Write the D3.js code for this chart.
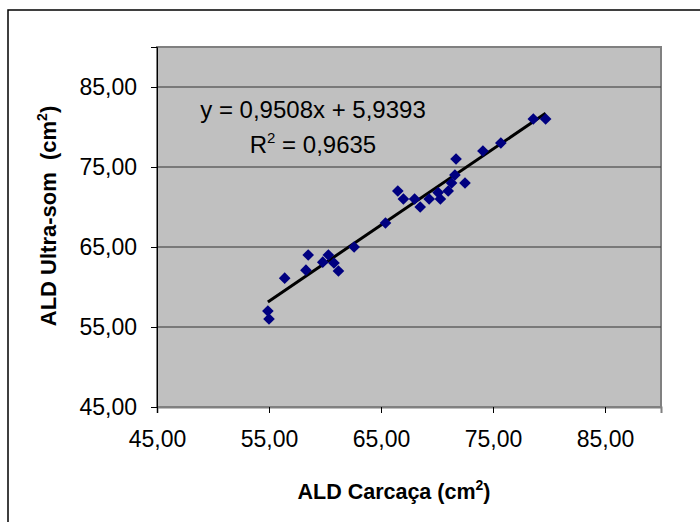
<!DOCTYPE html>
<html>
<head>
<meta charset="utf-8">
<script src="https://cdn.jsdelivr.net/npm/d3@7"></script>
<style>
  body { margin: 0; background: #fff; }
  svg { display: block; font-family: Arial, "Liberation Sans", sans-serif; }
</style>
</head>
<body>
<div id="root"></div>
<script>
// ALD carcaça (x) vs ALD ultra-som (y), cm2
var carcaca = [54.9, 55.0, 56.4, 58.3, 58.5, 59.8, 60.3, 60.8, 61.2, 62.6,
    65.4, 66.5, 67.0, 68.0, 68.5, 69.3, 70.1, 70.3, 71.0, 71.3,
    71.6, 72.5, 71.7, 74.1, 75.7, 78.6, 79.7];
var ultrasom = [57.0, 56.0, 61.1, 62.1, 64.0, 63.1, 64.0, 63.0, 62.0, 65.0,
    68.0, 72.0, 71.0, 71.0, 70.0, 71.0, 71.8, 71.0, 72.0, 73.0,
    74.0, 73.0, 76.0, 77.0, 78.0, 81.0, 81.0];
var ticks = [45, 55, 65, 75, 85];
var slope = 0.9508, intercept = 5.9393;
var eqText = "y = 0,9508x + 5,9393";
var r2Text = "0,9635";

var W = 700, H = 522;
var svg = d3.select("#root").append("svg")
    .attr("width", W)
    .attr("height", H);

// outer chart frame (runs past the right/bottom edges)
svg.append("rect")
    .attr("x", 8).attr("y", 10)
    .attr("width", 720).attr("height", 540)
    .attr("fill", "#fff")
    .attr("stroke", "#000")
    .attr("stroke-width", 1.5);

var pLeft = 157, pRight = 661, pTop = 47, pBottom = 407;

var x = d3.scaleLinear().domain([45, 90]).range([pLeft, pRight]);
var y = d3.scaleLinear().domain([45, 90]).range([pBottom, pTop]);

svg.append("rect")
    .attr("x", pLeft).attr("y", pTop)
    .attr("width", pRight - pLeft).attr("height", pBottom - pTop)
    .attr("fill", "#c0c0c0")
    .attr("stroke", "#808080")
    .attr("stroke-width", 2);

// horizontal gridlines
svg.append("g").selectAll("line")
    .data(ticks.slice(1))
    .enter().append("line")
    .attr("x1", pLeft).attr("x2", pRight)
    .attr("y1", function (d) { return y(d); })
    .attr("y2", function (d) { return y(d); })
    .attr("stroke", "#333")
    .attr("stroke-width", 1);

var fmt = function (d) { return d3.format(".2f")(d).replace(".", ","); };

var xAxis = svg.append("g")
    .attr("transform", "translate(0," + pBottom + ")")
    .call(d3.axisBottom(x).tickValues(ticks).tickSize(6).tickPadding(18).tickFormat(fmt));
var yAxis = svg.append("g")
    .attr("transform", "translate(" + pLeft + ",0)")
    .call(d3.axisLeft(y).tickValues(ticks).tickSize(6).tickPadding(14).tickFormat(fmt));

[xAxis, yAxis].forEach(function (g) {
    g.select(".domain").attr("stroke", "#000").attr("stroke-width", 1);
    g.selectAll(".tick line").attr("stroke", "#000");
    g.selectAll(".tick text")
        .attr("fill", "#000")
        .style("font-size", "23px")
        .style("font-family", "Arial, 'Liberation Sans', sans-serif");
});
xAxis.select(".domain").attr("stroke", "#808080").attr("stroke-width", 2);

// trendline
var x0 = d3.min(carcaca), x1 = d3.max(carcaca);
svg.append("line")
    .attr("x1", x(x0)).attr("y1", y(slope * x0 + intercept))
    .attr("x2", x(x1)).attr("y2", y(slope * x1 + intercept))
    .attr("stroke", "#000")
    .attr("stroke-width", 3);

// points
svg.append("g").selectAll("path")
    .data(carcaca)
    .enter().append("path")
    .attr("d", d3.symbol().type(d3.symbolSquare).size(68))
    .attr("transform", function (d, i) {
        return "translate(" + x(d) + "," + y(ultrasom[i]) + ") rotate(45)";
    })
    .attr("fill", "#000080");

// equation
svg.append("text")
    .attr("x", 313).attr("y", 118)
    .attr("text-anchor", "middle")
    .style("font-size", "24px")
    .text(eqText);
var r2 = svg.append("text")
    .attr("x", 313).attr("y", 153)
    .attr("text-anchor", "middle")
    .style("font-size", "24px");
r2.append("tspan").text("R");
r2.append("tspan").attr("dy", -10).style("font-size", "15px").text("2");
r2.append("tspan").attr("dy", 10).text(" = " + r2Text);

// axis titles
var xt = svg.append("text")
    .attr("x", 394).attr("y", 499)
    .attr("text-anchor", "middle")
    .style("font-size", "21.5px").style("font-weight", "bold");
xt.append("tspan").text("ALD Carcaça (cm");
xt.append("tspan").attr("dy", -9).style("font-size", "14px").text("2");
xt.append("tspan").attr("dy", 9).text(")");

var yt = svg.append("text")
    .attr("transform", "translate(56,216) rotate(-90)")
    .attr("text-anchor", "middle")
    .attr("xml:space", "preserve")
    .style("white-space", "pre")
    .style("font-size", "22px").style("font-weight", "bold");
yt.append("tspan").text("ALD Ultra-som  (cm");
yt.append("tspan").attr("dy", -9).style("font-size", "14px").text("2");
yt.append("tspan").attr("dy", 9).text(")");
</script>
</body>
</html>
